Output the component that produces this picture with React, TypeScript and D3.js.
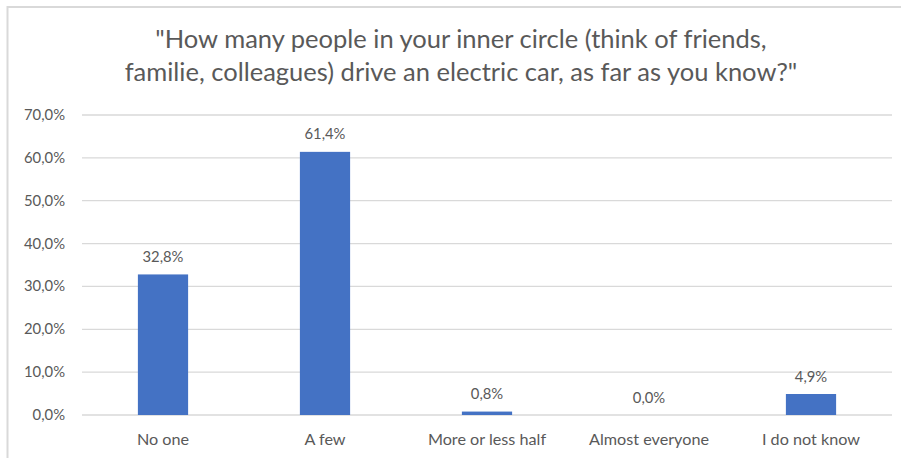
import React from "react";
import * as d3 from "d3";

const categories = ["No one", "A few", "More or less half", "Almost everyone", "I do not know"];
const shares = [32.8, 61.4, 0.8, 0.0, 4.9];
const yTicks = [0, 10, 20, 30, 40, 50, 60, 70];
const titleLines = [
  "\"How many people in your inner circle (think of friends,",
  "familie, colleagues) drive an electric car, as far as you know?\"",
];

const W = 901;
const H = 458;
const FONT = "Lato, 'Open Sans', sans-serif";
const TEXT = "#595959";
const GRID = "#d9d9d9";
const BAR = "#4472c4";

const fmt = (v: number) => v.toFixed(1).replace(".", ",") + "%";

export default function App() {
  const x = d3.scaleBand<string>().domain(categories).range([82, 892]).paddingInner(0.69).paddingOuter(0.345);
  const y = d3.scaleLinear().domain([0, 70]).range([415, 115]);

  return (
    <svg width={W} height={H} style={{ position: "absolute", left: 0, top: 0, background: "#fff" }} fontFamily={FONT}>
      <rect x={0} y={0} width={W} height={H} fill="#fff" />
      {/* chart frame */}
      <line x1={7.5} x2={W} y1={7} y2={7} stroke={GRID} strokeWidth={2} />
      <line x1={7.5} x2={7.5} y1={6} y2={H} stroke={GRID} strokeWidth={2} />

      {titleLines.map((t, i) => (
        <text key={i} x={461} y={48 + i * 33} textAnchor="middle" fontSize={25.5} fill={TEXT}>
          {t}
        </text>
      ))}

      {yTicks.map((t) => (
        <g key={t}>
          <line x1={82} x2={892} y1={y(t)} y2={y(t)} stroke={GRID} strokeWidth={1.3} />
          <text x={65} y={y(t) + 5} textAnchor="end" fontSize={14.8} fill={TEXT}>
            {fmt(t)}
          </text>
        </g>
      ))}

      {categories.map((c, i) => (
        <g key={c}>
          <rect x={x(c)} y={y(shares[i])} width={x.bandwidth()} height={y(0) - y(shares[i])} fill={BAR} />
          <text x={(x(c) as number) + x.bandwidth() / 2} y={y(shares[i]) - 12.5} textAnchor="middle" fontSize={14.8} fill={TEXT}>
            {fmt(shares[i])}
          </text>
          <text x={(x(c) as number) + x.bandwidth() / 2} y={445} textAnchor="middle" fontSize={16.2} fill={TEXT}>
            {c}
          </text>
        </g>
      ))}
    </svg>
  );
}
